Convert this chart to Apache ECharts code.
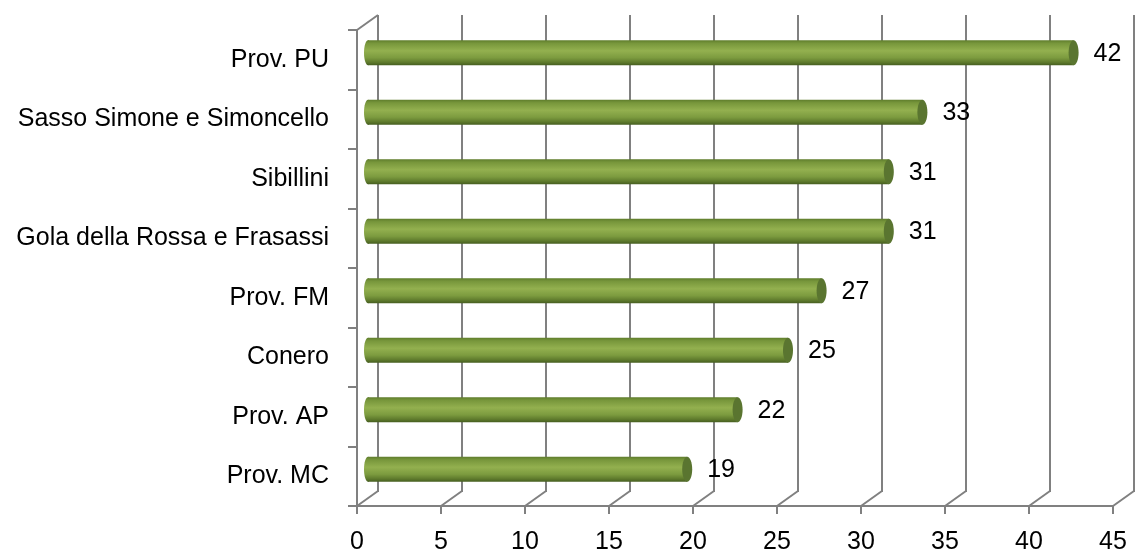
<!DOCTYPE html>
<html><head><meta charset="utf-8">
<script src="https://cdn.jsdelivr.net/npm/echarts@6/dist/echarts.min.js"></script>
<style>html,body{margin:0;padding:0;background:#fff}#c{width:1139px;height:553px}</style>
</head><body><div id="c"></div>
<script>
const categories = ["Prov. PU","Sasso Simone e Simoncello","Sibillini","Gola della Rossa e Frasassi","Prov. FM","Conero","Prov. AP","Prov. MC"];
const values = [42,33,31,31,27,25,22,19];
const xTicks = [0,5,10,15,20,25,30,35,40,45];

const DX = 21, DY = 15;
const FONT = "Liberation Sans";
const GRID_COLOR = '#808080';
const chart = echarts.init(document.getElementById('c'));

function cylinder(params, api){
  const v = api.value(0), c = api.value(1);
  const p0 = api.coord([0, c]), p1 = api.coord([v, c]);
  const h = 25;
  const grad = new echarts.graphic.LinearGradient(0,0,0,1,[
    {offset:0,color:'#5f7d2c'},{offset:0.12,color:'#77963b'},
    {offset:0.42,color:'#93b04f'},{offset:0.7,color:'#7c9b3f'},
    {offset:0.88,color:'#5f7b2d'},{offset:1,color:'#465e20'}]);
  return {type:'group',children:[
    {type:'ellipse',shape:{cx:p0[0],cy:p0[1],rx:4,ry:h/2},style:{fill:grad}},
    {type:'rect',shape:{x:p0[0],y:p0[1]-h/2,width:p1[0]-p0[0],height:h},style:{fill:grad}},
    {type:'ellipse',shape:{cx:p1[0],cy:p1[1],rx:5,ry:h/2},style:{fill:'#5a7530'}},
    {type:'text',style:{x:p1[0]+20,y:p1[1]+1,text:String(v),fill:'#000',font:'25px '+FONT,verticalAlign:'middle',align:'left'}}
  ]};
}

function depthLines(params, api){
  const v = api.value(0);
  const cs = params.coordSys;
  const x = api.coord([v, 0])[0];
  const bottom = cs.y + cs.height, top = cs.y;
  const style = {stroke:GRID_COLOR, lineWidth:2};
  const ch = [{type:'line',shape:{x1:x,y1:bottom,x2:x+DX,y2:bottom-DY},style}];
  if (v === 0) ch.push({type:'line',shape:{x1:x,y1:top,x2:x+DX,y2:top-DY},style});
  return {type:'group',children:ch};
}

chart.setOption({
  animation:false,
  grid:[
    {left:357, right:26, top:30, bottom:47, containLabel:false, outerBoundsMode:'none'},
    {left:368, right:15, top:23, bottom:54, containLabel:false, outerBoundsMode:'none'},
    {left:378, right:5, top:15, bottom:61, containLabel:false, outerBoundsMode:'none'}
  ],
  xAxis:[
    {gridIndex:0,type:'value',min:0,max:45,interval:5,
     axisLine:{show:true,lineStyle:{color:GRID_COLOR,width:2}},
     axisTick:{show:true,length:8,lineStyle:{color:GRID_COLOR,width:2}},
     splitLine:{show:false},
     axisLabel:{color:'#000',fontSize:25,fontFamily:FONT,margin:24}},
    {gridIndex:1,type:'value',min:0,max:45,interval:5,show:false},
    {gridIndex:2,type:'value',min:0,max:45,interval:5,
     axisLine:{show:false},axisTick:{show:false},axisLabel:{show:false},
     splitLine:{show:true,lineStyle:{color:GRID_COLOR,width:2}}}
  ],
  yAxis:[
    {gridIndex:0,type:'category',data:categories,inverse:true,
     axisLine:{show:true,lineStyle:{color:GRID_COLOR,width:2}},
     axisTick:{show:true,length:9,lineStyle:{color:GRID_COLOR,width:2}},
     axisLabel:{color:'#000',fontSize:25,fontFamily:FONT,margin:28}},
    {gridIndex:1,type:'category',data:categories,inverse:true,show:false},
    {gridIndex:2,type:'category',data:categories,inverse:true,show:false}
  ],
  series:[
    {type:'custom',xAxisIndex:0,yAxisIndex:0,renderItem:depthLines,
     data:xTicks.map(t=>[t,0]),silent:true,z:1},
    {type:'custom',xAxisIndex:1,yAxisIndex:1,renderItem:cylinder,
     data:values.map((v,i)=>[v,i]),z:3}
  ]
});
</script></body></html>
